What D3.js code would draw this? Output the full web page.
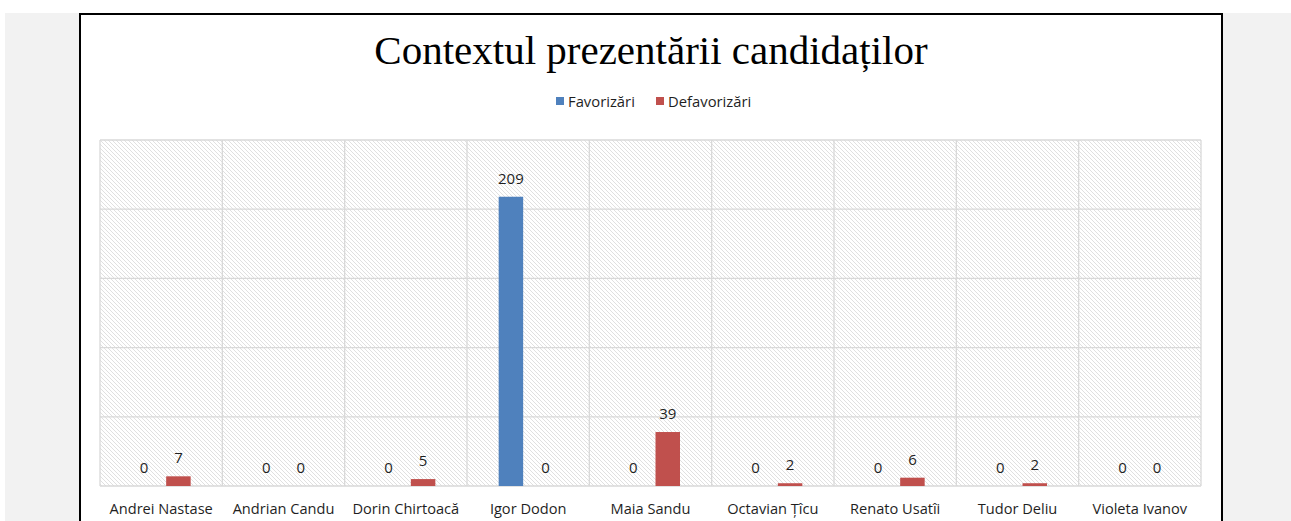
<!DOCTYPE html>
<html>
<head>
<meta charset="utf-8">
<script src="https://cdn.jsdelivr.net/npm/d3@7"></script>
<style>
  html, body { margin: 0; padding: 0; background: #fff; }
  svg { display: block; }
</style>
</head>
<body>
<svg width="1291" height="521"></svg>
<script>
const categories = [
  "Andrei Nastase", "Andrian Candu", "Dorin Chirtoacă", "Igor Dodon", "Maia Sandu",
  "Octavian Țîcu", "Renato Usatîi", "Tudor Deliu", "Violeta Ivanov"
];
const seriesNames = ["Favorizări", "Defavorizări"];
const favorizari = [0, 0, 0, 209, 0, 0, 0, 0, 0];
const defavorizari = [7, 0, 5, 0, 39, 2, 6, 2, 0];
const yTicks = [0, 50, 100, 150, 200, 250];

const colors = { "Favorizări": "#4f81bd", "Defavorizări": "#c0504d" };
const gridColor = "#d9d9d9";
const textColor = "#1f1f1f";
const labelFont = "'Open Sans', sans-serif";

const svg = d3.select("svg");

// gray page background + white chart sheet
svg.append("rect").attr("x", 5).attr("y", 13).attr("width", 1286).attr("height", 508).attr("fill", "#f2f2f2");
svg.append("rect").attr("x", 80).attr("y", 14).attr("width", 1142).attr("height", 520)
  .attr("fill", "#fff").attr("stroke", "#000").attr("stroke-width", 2);

const plot = { left: 100, right: 1201, top: 140, bottom: 486 };

// hatch pattern for plot area
const defs = svg.append("defs");
defs.append("pattern")
  .attr("id", "hatch")
  .attr("patternUnits", "userSpaceOnUse")
  .attr("width", 4).attr("height", 4)
  .append("path")
  .attr("d", "M0,0 L4,4 M-1,3 L1,5 M3,-1 L5,1")
  .attr("stroke", "#e0e0e0").attr("stroke-width", 1);

svg.append("rect")
  .attr("x", plot.left).attr("y", plot.top)
  .attr("width", plot.right - plot.left).attr("height", plot.bottom - plot.top)
  .attr("fill", "url(#hatch)");

const x = d3.scaleBand().domain(categories).range([plot.left, plot.right]);
const x1 = d3.scaleBand().domain(seriesNames)
  .range([(x.bandwidth() - 59) / 2, (x.bandwidth() + 59) / 2])
  .paddingInner(0.29);
const y = d3.scaleLinear().domain([0, 250]).range([plot.bottom, plot.top]);

// grid
const grid = svg.append("g").attr("stroke", gridColor).attr("stroke-width", 1.3);
grid.selectAll("line.h").data(yTicks).enter().append("line")
  .attr("x1", plot.left).attr("x2", plot.right)
  .attr("y1", (d) => y(d)).attr("y2", (d) => y(d));
grid.selectAll("line.v").data(categories.concat(["end"])).enter().append("line")
  .attr("x1", (d, i) => plot.left + i * x.step()).attr("x2", (d, i) => plot.left + i * x.step())
  .attr("y1", plot.top).attr("y2", plot.bottom);

const rows = categories.map((c, i) => ({
  cat: c,
  values: [
    { key: "Favorizări", value: favorizari[i] },
    { key: "Defavorizări", value: defavorizari[i] }
  ]
}));

const groups = svg.append("g").selectAll("g").data(rows).enter().append("g")
  .attr("transform", (d) => "translate(" + x(d.cat) + ",0)");

groups.selectAll("rect").data((d) => d.values).enter().append("rect")
  .attr("x", (d) => x1(d.key))
  .attr("width", x1.bandwidth())
  .attr("y", (d) => y(d.value))
  .attr("height", (d) => y(0) - y(d.value))
  .attr("fill", (d) => colors[d.key]);

groups.selectAll("text").data((d) => d.values).enter().append("text")
  .attr("x", (d) => x1(d.key) + x1.bandwidth() / 2)
  .attr("y", (d) => y(d.value) - 13)
  .attr("text-anchor", "middle")
  .attr("font-family", labelFont)
  .attr("font-size", "15px")
  .attr("fill", textColor)
  .text((d) => d.value);

// category labels
svg.append("g").selectAll("text").data(categories).enter().append("text")
  .attr("x", (d) => x(d) + x.bandwidth() / 2)
  .attr("y", 514)
  .attr("text-anchor", "middle")
  .attr("font-family", labelFont)
  .attr("font-size", "14.6px")
  .attr("fill", textColor)
  .text((d) => d);

// title
svg.append("text")
  .attr("x", 651).attr("y", 64)
  .attr("text-anchor", "middle")
  .attr("font-family", "'Liberation Serif', serif")
  .attr("font-size", "41px")
  .attr("fill", "#000")
  .text("Contextul prezentării candidaților");

// legend
const legendItems = [
  { key: "Favorizări", x: 556 },
  { key: "Defavorizări", x: 656 }
];
const legend = svg.append("g").selectAll("g").data(legendItems).enter().append("g")
  .attr("transform", (d) => "translate(" + d.x + ",97)");
legend.append("rect").attr("width", 8).attr("height", 8).attr("fill", (d) => colors[d.key]);
legend.append("text").attr("x", 12).attr("y", 9.5)
  .attr("font-family", labelFont).attr("font-size", "14.8px").attr("fill", textColor)
  .text((d) => d.key);
</script>
</body>
</html>
